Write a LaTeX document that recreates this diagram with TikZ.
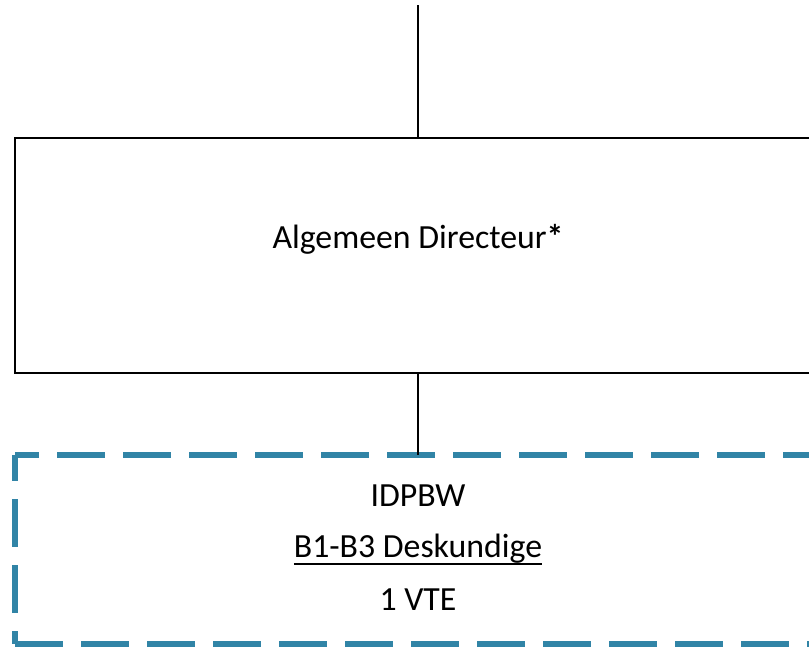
\documentclass[tikz,border=0pt]{standalone}
\usepackage{fontspec}
\setmainfont{Carlito}
\definecolor{dashblue}{RGB}{49,132,166}
\tikzset{
  solidbox/.style={draw=black, line width=2pt, inner sep=0pt, outer sep=0pt, minimum width=806pt, minimum height=235pt},
  dashholder/.style={draw=none, inner sep=0pt, outer sep=0pt, minimum width=806pt, minimum height=189pt},
  dashline/.style={draw=dashblue, line width=5.5pt, dash pattern=on 48pt off 18pt},
  conn/.style={draw=black, line width=2pt},
  lbl/.style={inner sep=0pt, outer sep=0pt, anchor=base, font=\fontsize{33.8}{40}\selectfont}
}
\begin{document}
\begin{tikzpicture}[x=1pt,y=-1pt]
\useasboundingbox (0,0) rectangle (809,648);
\clip (0,0) rectangle (809,648);
\coordinate (top) at (418,5);
\node[solidbox] (ad) at (418,255.5) {};
\node[lbl] (adtext) at (418,248) {Algemeen Directeur\textbf{*}};
\node[dashholder] (idp) at (418,549.5) {};
\draw[dashline, dash phase=24pt] (idp.north west) -- (idp.north east);
\draw[dashline, dash phase=22pt] (idp.north west) -- (idp.south west);
\draw[dashline] (idp.south west) -- (idp.south east);
\draw[dashline] (idp.north east) -- (idp.south east);
\node[lbl] (t1) at (418,506) {IDPBW};
\node[lbl] (t2) at (418,557) {B1-B3 Deskundige};
\draw[line width=1.6pt] ([yshift=-7pt]t2.base west) -- ([yshift=-7pt]t2.base east);
\node[lbl] (t3) at (418,610) {1 VTE};
\draw[conn] (top) -- (ad.north);
\draw[conn] (ad.south) -- (idp.north);
\end{tikzpicture}
\end{document}
